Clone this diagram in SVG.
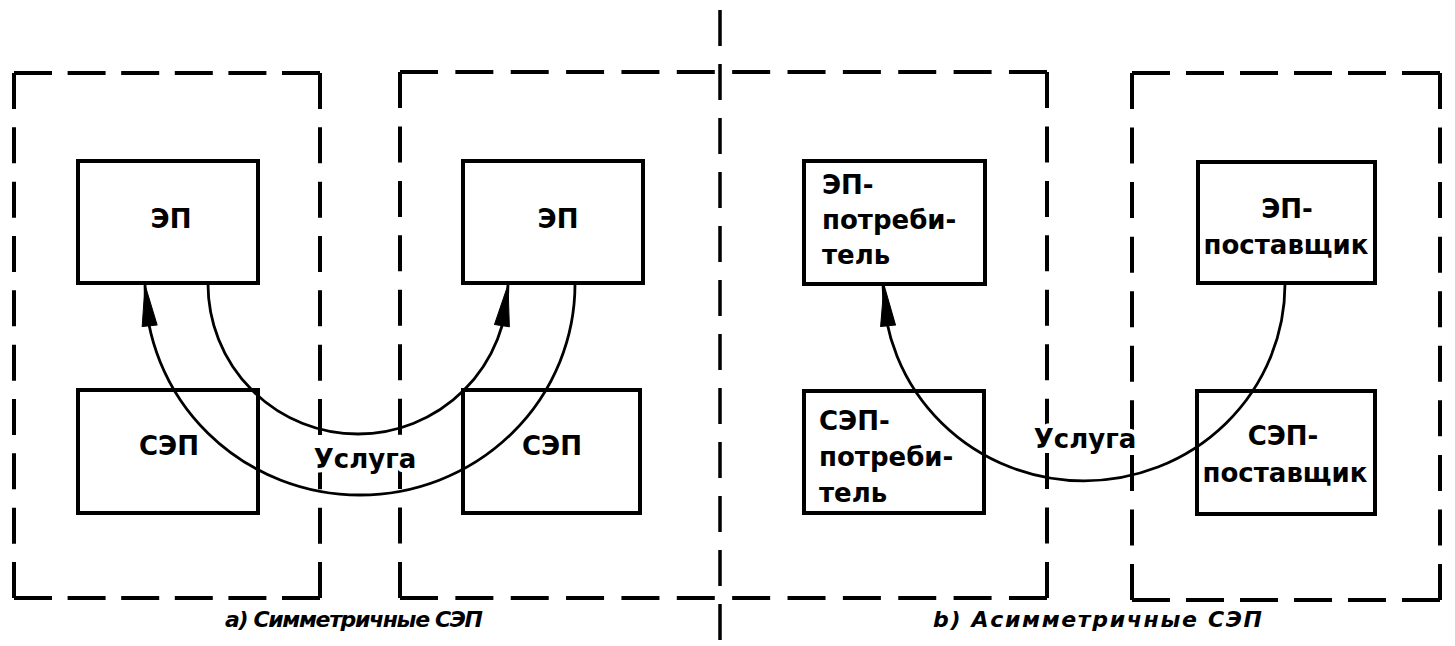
<svg xmlns="http://www.w3.org/2000/svg" xmlns:xlink="http://www.w3.org/1999/xlink" width="1455" height="646" viewBox="0 0 1455 646">
<style>
.bg{fill:#fff}
.fr{stroke:#000;stroke-width:4;fill:none;stroke-linecap:butt}
.cl{stroke:#000;stroke-width:3.5;fill:none}
.box{stroke:#000;stroke-width:4;fill:none}
.cv{stroke:#000;stroke-width:2.8;fill:none}
.ah{fill:#000;stroke:#000;stroke-width:1;stroke-linejoin:round}
.t{font-family:"DejaVu Sans","Liberation Sans",sans-serif;font-weight:bold;font-size:26px;fill:#000}
.m{text-anchor:middle}
.lbl{stroke:#fff;stroke-width:9;paint-order:stroke;stroke-linejoin:round}
.cap{font-family:"DejaVu Sans","Liberation Sans",sans-serif;font-weight:bold;font-style:italic;font-size:22px;fill:#000}
</style>
<defs>
<polygon id="arrow" points="0,0 -7.5,41 7.5,41"/>
</defs>
<rect class="bg" x="0" y="0" width="1455" height="646"/>

<g id="frame-a1">
<line class="fr" x1="14" y1="73" x2="320" y2="73" stroke-dasharray="38 15.6"/>
<line class="fr" x1="14" y1="598" x2="320" y2="598" stroke-dasharray="38 15.6"/>
<line class="fr" x1="14" y1="73" x2="14" y2="598" stroke-dasharray="36 18.33"/>
<line class="fr" x1="320" y1="73" x2="320" y2="598" stroke-dasharray="36 18.33"/>
</g>
<g id="frame-a2b1">
<line class="fr" x1="400" y1="72" x2="1047" y2="72" stroke-dasharray="38 17.36"/>
<line class="fr" x1="400" y1="598" x2="1047" y2="598" stroke-dasharray="38 17.36"/>
<line class="fr" x1="400" y1="72" x2="400" y2="598" stroke-dasharray="36 18.44"/>
<line class="fr" x1="1047" y1="72" x2="1047" y2="598" stroke-dasharray="36 18.44"/>
</g>
<g id="frame-b2">
<line class="fr" x1="1132" y1="73" x2="1440" y2="73" stroke-dasharray="38 16"/>
<line class="fr" x1="1132" y1="600" x2="1440" y2="600" stroke-dasharray="38 16"/>
<line class="fr" x1="1132" y1="73" x2="1132" y2="600" stroke-dasharray="36 18.56"/>
<line class="fr" x1="1440" y1="73" x2="1440" y2="600" stroke-dasharray="36 18.56"/>
</g>
<g id="divider">
<line class="cl" x1="720" y1="10" x2="720" y2="640" stroke-dasharray="36 18"/>
</g>

<g id="ep-a1">
<rect class="box" x="78" y="161" width="180" height="122"/>
<text class="t m" x="171" y="228">ЭП</text>
</g>
<g id="ep-a2">
<rect class="box" x="463" y="161" width="180" height="122"/>
<text class="t m" x="558" y="228">ЭП</text>
</g>
<g id="sep-a1">
<rect class="box" x="78" y="390" width="180" height="123"/>
<text class="t m" x="169" y="455">СЭП</text>
</g>
<g id="sep-a2">
<rect class="box" x="463" y="390" width="177" height="123"/>
<text class="t m" x="552" y="455">СЭП</text>
</g>
<g id="ep-b1">
<rect class="box" x="804" y="161" width="181" height="123"/>
<text class="t" x="822" y="194">ЭП-</text>
<text class="t" x="822" y="229">потреби-</text>
<text class="t" x="822" y="264">тель</text>
</g>
<g id="ep-b2">
<rect class="box" x="1198" y="162" width="177" height="121"/>
<text class="t m" x="1287" y="218">ЭП-</text>
<text class="t m" x="1286" y="254">поставщик</text>
</g>
<g id="sep-b1">
<rect class="box" x="804" y="391" width="180" height="122"/>
<text class="t" x="819" y="430">СЭП-</text>
<text class="t" x="819" y="466">потреби-</text>
<text class="t" x="819" y="502">тель</text>
</g>
<g id="sep-b2">
<rect class="box" x="1197" y="391" width="178" height="123"/>
<text class="t m" x="1283" y="445">СЭП-</text>
<text class="t m" x="1285" y="482">поставщик</text>
</g>

<g id="connectors">
<path class="cv" d="M208,284 A150,150 0 0 0 508,284"/>
<use xlink:href="#arrow" href="#arrow" class="ah" transform="translate(508,285) rotate(8.5)"/>
<path class="cv" d="M575,284 A215,211 0 0 1 145,284"/>
<use xlink:href="#arrow" href="#arrow" class="ah" transform="translate(145,285) rotate(-6.5)"/>
<path class="cv" d="M1285,284 A201,197 0 0 1 883,284"/>
<use xlink:href="#arrow" href="#arrow" class="ah" transform="translate(884,285) rotate(-5.7)"/>
<text class="t m lbl" x="365" y="468">Услуга</text>
<text class="t m lbl" x="1085" y="448">Услуга</text>
</g>

<g id="captions">
<text class="cap" x="225" y="627" textLength="258" lengthAdjust="spacing">a) Симметричные СЭП</text>
<text class="cap" x="933" y="627" textLength="329" lengthAdjust="spacing">b) Асимметричные СЭП</text>
</g>
</svg>
